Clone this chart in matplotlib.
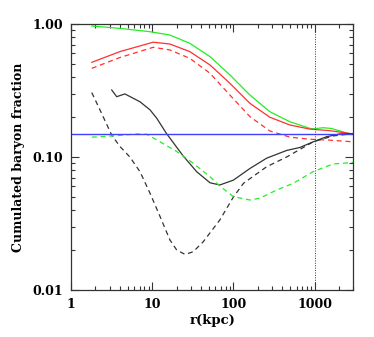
import numpy as np
import matplotlib
matplotlib.use("Agg")
from matplotlib import pyplot as plt
from matplotlib.ticker import FixedLocator, LogLocator, NullFormatter

# data (r in kpc, cumulated baryon fraction)
r_green = [1.8, 4, 9.4, 16.5, 29, 51.5, 90.6, 160, 281, 497, 875, 1000, 1270,
           1600, 2200, 3000]
f_green = [0.966, 0.927, 0.875, 0.826, 0.716, 0.568, 0.414, 0.292, 0.219,
           0.184, 0.164, 0.163, 0.166, 0.164, 0.155, 0.147]

r_red = [1.8, 4, 10.3, 16.5, 29, 51.5, 90.6, 160, 281, 497, 875, 1500, 3000]
f_red = [0.515, 0.62, 0.73, 0.707, 0.62, 0.492, 0.358, 0.253, 0.199, 0.174,
         0.162, 0.158, 0.149]

r_red_d = [1.8, 4, 10.3, 16.5, 29, 51.5, 90.6, 160, 281, 497, 875, 1500, 3000]
f_red_d = [0.464, 0.56, 0.668, 0.638, 0.552, 0.426, 0.292, 0.201, 0.157,
           0.141, 0.136, 0.134, 0.13]

r_black = [3.17, 3.65, 4.6, 5.6, 7.07, 9.4, 11.4, 15, 24, 35.3, 51.5, 68, 100,
           160, 257, 453, 660, 960, 1400, 2040, 3000]
f_black = [0.319, 0.284, 0.298, 0.28, 0.26, 0.226, 0.195, 0.15, 0.102, 0.0775,
           0.064, 0.0616, 0.067, 0.082, 0.098, 0.112, 0.118, 0.13, 0.142, 0.149,
           0.15]

r_black_d = [1.8, 2.27, 3.17, 4, 5.3, 7.07, 9.4, 12.5, 16.5, 20, 25.4, 32,
             42.6, 68, 100, 133, 257, 453, 960, 1690, 2480, 3000]
f_black_d = [0.305, 0.226, 0.146, 0.12, 0.1, 0.0775, 0.0533, 0.0356, 0.0238,
             0.02, 0.0185, 0.0194, 0.0231, 0.0336, 0.05, 0.0634, 0.0845, 0.1,
             0.13, 0.144, 0.148, 0.149]

r_green_d = [1.8, 3.3, 6.4, 8.6, 12.5, 20, 32, 51.5, 68, 100, 160, 212, 342,
             545, 960, 1690, 3000]
f_green_d = [0.141, 0.144, 0.149, 0.148, 0.13, 0.11, 0.0897, 0.071, 0.0605,
             0.0503, 0.0475, 0.049, 0.0565, 0.0634, 0.0776, 0.0886, 0.091]

f_baryon = 0.15
r_vir = 1000

plt.rcParams['font.family'] = ['DejaVu Serif']
plt.rcParams['font.weight'] = 'bold'

fig = plt.figure(figsize=(3.74, 3.37), dpi=100)
ax = fig.add_axes([0.19, 0.1395, 0.7547, 0.7893])

dash = (0, (4, 3))
ax.plot(r_green, f_green, color='#22ee22', lw=0.9)
ax.plot(r_red, f_red, color='#ff3030', lw=0.9)
ax.plot(r_red_d, f_red_d, color='#ff3030', lw=0.9, ls=dash)
ax.plot(r_black, f_black, color='#333333', lw=0.9)
ax.plot(r_black_d, f_black_d, color='#333333', lw=0.9, ls=dash)
ax.plot(r_green_d, f_green_d, color='#22ee22', lw=0.9, ls=dash)
ax.axhline(f_baryon, color='#4040ff', lw=1.0)
ax.axvline(r_vir, color='#333333', lw=0.7, ls=(0, (1, 1.5)))

ax.set_xscale('log')
ax.set_yscale('log')
ax.set_xlim(1, 3000)
ax.set_ylim(0.01, 1.0)

ax.xaxis.set_major_locator(FixedLocator([1, 10, 100, 1000]))
ax.set_xticklabels(['1', '10', '100', '1000'])
ax.xaxis.set_minor_locator(LogLocator(base=10, subs=np.arange(2, 10)))
ax.xaxis.set_minor_formatter(NullFormatter())
ax.yaxis.set_major_locator(FixedLocator([0.01, 0.1, 1.0]))
ax.set_yticklabels(['0.01', '0.10', '1.00'])
ax.yaxis.set_minor_locator(LogLocator(base=10, subs=np.arange(2, 10)))
ax.yaxis.set_minor_formatter(NullFormatter())

ax.tick_params(which='both', direction='in', top=True, right=True,
               labelsize=9, width=0.8, color='#333333')
ax.tick_params(which='major', length=6, pad=6)
ax.tick_params(which='minor', length=3)
for s in ax.spines.values():
    s.set_linewidth(0.9)
    s.set_color('#333333')

ax.set_xlabel('r(kpc)', fontsize=9.5, fontweight='bold', labelpad=2)
ax.set_ylabel('Cumulated baryon fraction', fontsize=9, fontweight='bold', labelpad=5)

fig.savefig('out.png', dpi=100)
